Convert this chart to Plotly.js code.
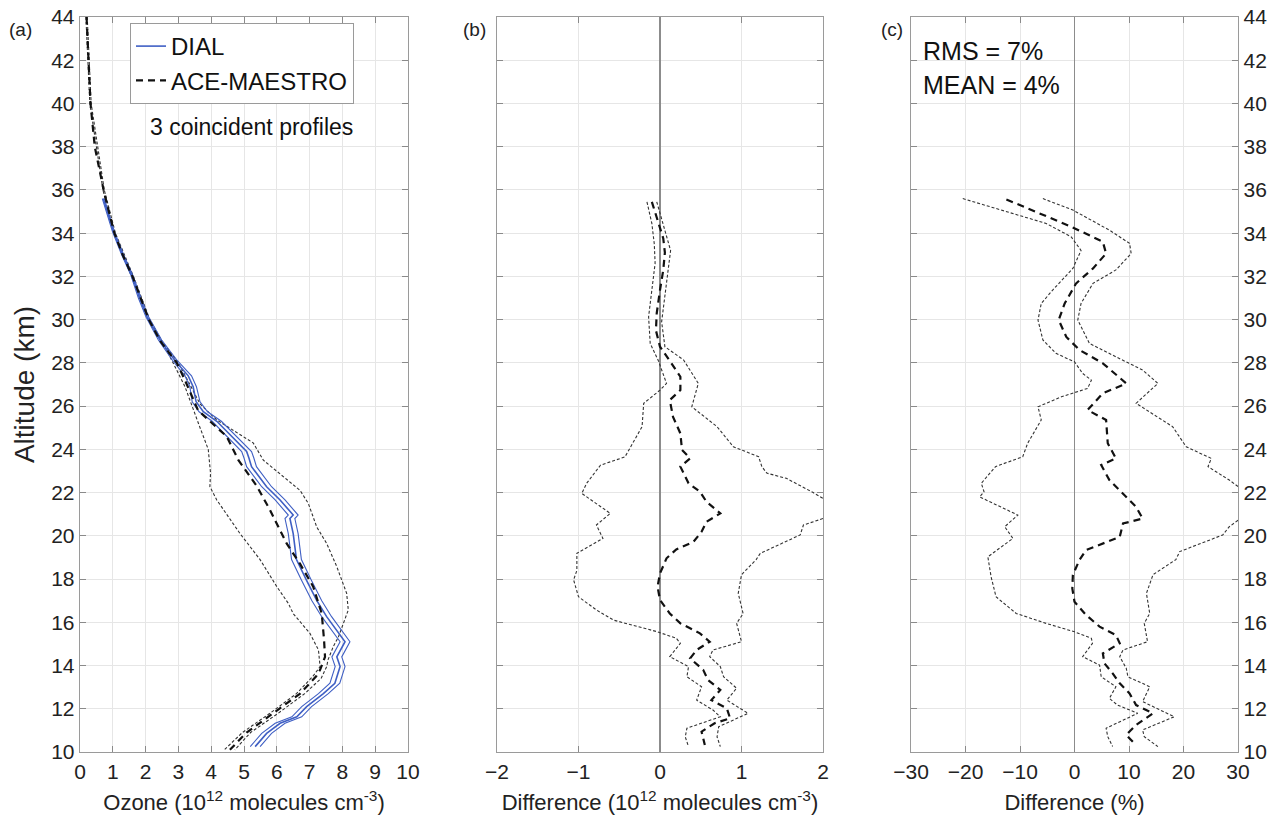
<!DOCTYPE html>
<html>
<head>
<meta charset="utf-8">
<script src="https://cdn.plot.ly/plotly-3.0.1.min.js"></script>
<style>html,body{margin:0;padding:0;background:#fff;}#chart{width:1279px;height:825px;}</style>
</head>
<body>
<div id="chart"></div>
<script>
// ---------- Panel (a): ozone number density (1e12 molecules cm-3) ----------
const aceMeanAlt = [44,42,40,38,36,35,34,33,32,31,30,29,28,27.2,25.8,24.6,23.5,22.3,21.2,19.65,18.7,17.65,16.4,15.2,14.4,13.8,13.5,12.7,11.8,10.9,10.1];
const aceMeanO3  = [0.2,0.25,0.32,0.45,0.72,0.88,1.05,1.3,1.6,1.85,2.1,2.45,2.95,3.2,3.6,4.47,4.83,5.39,5.79,6.3,6.71,7.11,7.37,7.44,7.47,7.32,7.2,6.71,5.9,5.08,4.57];

const aceLowAlt = [44,40,36,34,32,30,28.6,26.9,25,24,22.9,22.27,21.66,20.1,18.9,17.65,16.88,16.4,15.49,14.72,13.95,13.5,12.7,11.8,10.9,10.1];
const aceLowO3  = [0.18,0.3,0.7,1.03,1.57,2.07,2.64,3.2,3.66,3.91,3.98,3.96,4.17,4.88,5.49,6.0,6.35,6.5,7.01,7.27,7.32,7.1,6.6,5.8,4.95,4.4];

const aceHighAlt = [44,40,36,34,32,30,29,28,27,26.1,25.36,24.3,23.5,22.1,21.5,20.4,19.65,18.57,17.34,16.57,15.95,15.33,14.87,14.26,13.95,13.4,12.7,11.8,10.9,10.1];
const aceHighO3  = [0.22,0.34,0.74,1.08,1.63,2.13,2.5,3.0,3.35,3.66,4.17,5.28,5.59,6.71,6.96,7.22,7.52,7.83,8.13,8.18,8.03,7.88,7.72,7.56,7.52,7.35,6.85,6.05,5.2,4.72];

const dialAlt  = [35.6,34.07,33,32.06,31,30.13,29.06,28.1,27.4,26.9,26.2,25.74,25.3,24.5,23.9,23.6,23.2,22.27,21.66,20.96,20.8,20.1,19.5,18.9,17.96,17.0,16.26,15.64,15.1,14.4,13.95,13.18,12.7,12.1,11.63,11.33,10.86,10.25];
const dialO3   = [0.71,1.02,1.3,1.58,1.82,2.05,2.44,2.9,3.3,3.45,3.54,3.76,4.17,4.7,5.08,5.15,5.23,5.69,6.1,6.5,6.4,6.5,6.56,6.6,6.9,7.22,7.52,7.83,8.08,7.83,7.93,7.77,7.42,6.91,6.61,6.1,5.69,5.34];
const dialLow  = [0.68,0.99,1.27,1.55,1.78,2.01,2.39,2.83,3.2,3.35,3.42,3.63,4.03,4.56,4.93,5.0,5.08,5.54,5.95,6.35,6.25,6.35,6.41,6.45,6.75,7.07,7.37,7.68,7.93,7.68,7.78,7.62,7.27,6.76,6.46,5.95,5.54,5.19];
const dialHigh = [0.74,1.05,1.33,1.61,1.86,2.09,2.49,2.97,3.4,3.55,3.66,3.89,4.31,4.84,5.23,5.3,5.38,5.84,6.25,6.65,6.55,6.65,6.71,6.75,7.05,7.37,7.67,7.98,8.23,7.98,8.08,7.92,7.57,7.06,6.76,6.25,5.84,5.49];

// ---------- Panel (b): absolute difference (1e12 molecules cm-3) ----------
const difMeanAlt = [35.45,34.5,33.76,33.1,32.3,31.37,30.3,29.5,28.75,27.98,27.36,26.74,26.28,25.5,24.74,23.97,23.58,23.2,22.43,22.04,21.58,21.04,20.65,20.19,19.72,19.37,18.96,18.26,17.65,17.03,16.41,15.95,15.49,15.1,14.72,14.33,13.8,13.33,12.87,12.4,12.02,11.56,11.33,10.94,10.32];
const difMean    = [-0.1,-0.02,0.04,0.06,0.04,0,-0.04,-0.05,0,0.14,0.25,0.25,0.12,0.16,0.25,0.27,0.37,0.25,0.35,0.49,0.57,0.74,0.57,0.51,0.41,0.2,0.08,0,-0.03,0,0.12,0.25,0.49,0.61,0.45,0.37,0.53,0.59,0.74,0.63,0.82,0.86,0.67,0.51,0.55];

const difLowAlt = [35.45,34.45,33.5,32.6,31.37,30.13,28.9,28.1,27.05,26.74,26.13,25.05,23.65,23.27,22.43,21.96,21.04,20.5,19.88,19.19,18.4,17.96,17.18,16.57,16.1,15.57,15.26,15.03,14.41,13.95,13.48,13.02,12.4,11.94,11.63,11.1,10.7,10.25];
const difLow    = [-0.16,-0.1,-0.07,-0.06,-0.1,-0.14,-0.12,-0.02,0.08,0,-0.2,-0.22,-0.43,-0.73,-0.9,-0.96,-0.61,-0.78,-0.7,-1.02,-1.02,-1.06,-1.0,-0.78,-0.57,-0.04,0.2,0.25,0.12,0.35,0.33,0.51,0.45,0.65,0.74,0.33,0.31,0.35];

const difHighAlt = [35.45,34.14,33.2,32.3,31.06,29.9,28.75,28.13,27.05,25.97,25.05,24.12,23.66,23.2,22.9,22.66,22.0,21.5,20.8,20.5,20.04,19.19,18.9,18.2,17.34,16.4,15.95,15.1,14.72,14.41,13.95,13.48,12.95,12.4,11.79,11.17,10.7,10.25];
const difHigh    = [-0.04,0.06,0.13,0.1,0.06,0.02,0.06,0.29,0.47,0.39,0.7,0.9,1.21,1.25,1.31,1.55,1.88,2.1,2.0,1.76,1.72,1.23,1.18,1.0,0.96,1.02,0.94,1.0,0.65,0.61,0.74,0.78,0.94,0.82,1.08,0.72,0.7,0.74];

// ---------- Panel (c): relative difference (%) ----------
const pctMeanAlt = [35.56,34.9,34.3,33.6,33.06,32.37,31.68,30.75,29.98,29.2,28.6,27.98,27.05,26.59,25.82,25.36,24.28,23.58,23.27,22.58,21.96,21.34,20.8,20.57,19.95,19.65,19.34,18.88,18.19,17.57,16.95,16.34,15.8,15.41,15.03,14.56,14.1,13.64,13.18,12.71,12.17,11.79,11.25,10.79,10.32];
const pctMean    = [-12.5,-6.4,-0.6,5.2,5.8,3.4,0.3,-1.8,-2.9,-1.5,0.9,5.2,9.5,5.2,2.4,5.8,6.1,7.6,4.9,6.4,8.9,11.3,12.5,8.9,8.3,5.2,2.1,0.9,-0.3,-0.4,0,2.1,4.6,7.6,8.3,5.2,5.5,7.0,8.3,10.1,11.3,14.4,11.3,9.5,11.3];

const pctLowAlt = [35.6,35.0,34.45,33.83,33.2,32.37,31.37,30.75,29.98,29.06,28.44,28.05,27.51,27.2,26.82,26.43,25.97,25.36,24.28,23.66,23.2,22.43,22.04,21.8,20.96,20.42,19.88,19.03,18.1,17.18,16.41,15.95,15.56,15.26,15.03,14.41,14.02,13.48,13.02,12.48,12.17,11.79,11.1,10.71,10.25];
const pctLow    = [-20.5,-12.5,-5.2,-0.6,1.2,-0.3,-4.0,-6.1,-6.7,-5.8,-3.4,0,1.5,3.1,2.4,-2.4,-6.7,-6.1,-8.6,-9.5,-14.5,-17.1,-16.6,-17.4,-10.4,-12.8,-11.3,-15.9,-15.3,-14.4,-10.7,-5.2,0,3.1,3.3,1.5,4.6,4.9,7.6,6.4,7.9,11.6,5.8,6.1,7.0];

const pctHighAlt = [35.6,35.07,34.14,33.53,33.06,32.3,31.68,30.75,29.98,28.9,28.28,27.67,27.05,26.13,25.05,24.12,23.58,23.2,22.58,22.0,21.0,20.42,20.04,19.27,18.9,18.2,17.34,16.41,15.95,15.1,14.72,14.41,13.87,13.48,13.02,12.33,11.63,11.02,10.71,10.25];
const pctHigh    = [-5.8,-0.3,6.4,10.1,10.4,7.6,3.4,1.2,0.6,2.75,7.6,12.5,15.3,11.3,18.0,20.5,25.1,24.5,28.4,31.5,31.5,28.4,27.2,19.3,18.6,14.4,13.2,13.8,12.8,13.4,8.9,8.3,9.5,9.8,13.8,12.5,18.3,12.5,12.8,15.3];

// ---------- Text ----------
const panelLabels = ['(a)', '(b)', '(c)'];
const legendNames = ['DIAL', 'ACE-MAESTRO'];
const noteText = '3 coincident profiles';
const statsText = ['RMS = 7%', 'MEAN = 4%'];
const xTitles = ['Ozone (10<sup>12</sup> molecules cm<sup>-3</sup>)', 'Difference (10<sup>12</sup> molecules cm<sup>-3</sup>)', 'Difference (%)'];
const yTitle = 'Altitude (km)';
const altTicks = [10,12,14,16,18,20,22,24,26,28,30,32,34,36,38,40,42,44];

// ---------- Styles ----------
const FONT = 'Liberation Sans, Arial, Helvetica, sans-serif';
const BLUE = '#3f5fc4';
const meanLine = {color:'#111', width:2.2, dash:'7px,5px'};
const envLine = {color:'#333', width:1.1, dash:'3px,2px'};

function tr(x, y, xa, ya, line, name, show){
  return {type:'scatter', mode:'lines', x:x, y:y, xaxis:xa, yaxis:ya, line:line,
          name:name||'', showlegend:!!show, hoverinfo:'skip'};
}

const traces = [
  tr(aceLowO3, aceLowAlt, 'x', 'y', envLine),
  tr(aceHighO3, aceHighAlt, 'x', 'y', envLine),
  tr(dialLow, dialAlt, 'x', 'y', {color:BLUE, width:1.1}),
  tr(dialHigh, dialAlt, 'x', 'y', {color:BLUE, width:1.1}),
  tr(dialO3, dialAlt, 'x', 'y', {color:BLUE, width:1.6}, legendNames[0], true),
  tr(aceMeanO3, aceMeanAlt, 'x', 'y', meanLine, legendNames[1], true),

  tr(difLow, difLowAlt, 'x2', 'y2', envLine),
  tr(difHigh, difHighAlt, 'x2', 'y2', envLine),
  tr(difMean, difMeanAlt, 'x2', 'y2', meanLine),

  tr(pctLow, pctLowAlt, 'x3', 'y3', envLine),
  tr(pctHigh, pctHighAlt, 'x3', 'y3', envLine),
  tr(pctMean, pctMeanAlt, 'x3', 'y3', meanLine)
];

const W = 1279, H = 825;
const yDom = [1 - 752/H, 1 - 17/H];
const axisCommon = {
  showline:true, linecolor:'#9a9a9a', linewidth:1.3, mirror:'ticks',
  ticks:'inside', ticklen:6, tickcolor:'#8a8a8a', tickwidth:1,
  showgrid:true, gridcolor:'#e6e6e6', gridwidth:1,
  tickfont:{family:FONT, size:21, color:'#222'}, fixedrange:true
};
function xAx(dom, range, dtick, title, zero){
  return Object.assign({}, axisCommon, {
    domain:dom, range:range, dtick:dtick, tick0:range[0],
    zeroline:!!zero, zerolinecolor:'#8c8c8c', zerolinewidth:1.3,
    title:{text:title, font:{family:FONT, size:22, color:'#222'}, standoff:13}
  });
}
function yAx(anchor, side, labels, title){
  const ax = Object.assign({}, axisCommon, {
    domain:yDom, range:[10,44], tickvals:altTicks, anchor:anchor, side:side,
    showticklabels:labels, zeroline:false
  });
  if (title) ax.title = {text:title, font:{family:FONT, size:28, color:'#222'}, standoff:8};
  return ax;
}

const layout = {
  width:W, height:H, paper_bgcolor:'#fff', plot_bgcolor:'#fff',
  margin:{l:0, r:0, t:0, b:0},
  font:{family:FONT, color:'#222'},
  showlegend:true,
  legend:{x:130/W, y:1-23/H, xanchor:'left', yanchor:'top',
          bgcolor:'#fff', bordercolor:'#9a9a9a', borderwidth:1,
          font:{family:FONT, size:24, color:'#111'}, tracegroupgap:0, itemwidth:30},
  xaxis:  xAx([80/W, 408/W], [0,10], 1, xTitles[0], false),
  xaxis2: xAx([497/W, 823/W], [-2,2], 1, xTitles[1], true),
  xaxis3: xAx([911/W, 1238/W], [-30,30], 10, xTitles[2], true),
  yaxis:  yAx('x', 'left', true, yTitle),
  yaxis2: yAx('x2', 'left', false, null),
  yaxis3: yAx('x3', 'right', true, null),
  annotations:[
    {text:panelLabels[0], x:20/W, y:1-17/H, xref:'paper', yref:'paper', xanchor:'center', showarrow:false, font:{family:FONT, size:19, color:'#222'}},
    {text:panelLabels[1], x:474/W, y:1-17/H, xref:'paper', yref:'paper', xanchor:'center', showarrow:false, font:{family:FONT, size:19, color:'#222'}},
    {text:panelLabels[2], x:892/W, y:1-17/H, xref:'paper', yref:'paper', xanchor:'center', showarrow:false, font:{family:FONT, size:19, color:'#222'}},
    {text:noteText, x:251/W, y:1-112/H, xref:'paper', yref:'paper', xanchor:'center', showarrow:false, font:{family:FONT, size:23, color:'#111'}},
    {text:statsText[0], x:921/W, y:1-35/H, xref:'paper', yref:'paper', xanchor:'left', showarrow:false, font:{family:FONT, size:25, color:'#111'}},
    {text:statsText[1], x:921/W, y:1-69/H, xref:'paper', yref:'paper', xanchor:'left', showarrow:false, font:{family:FONT, size:25, color:'#111'}}
  ]
};

Plotly.newPlot('chart', traces, layout, {staticPlot:true, displayModeBar:false});
</script>
</body>
</html>
